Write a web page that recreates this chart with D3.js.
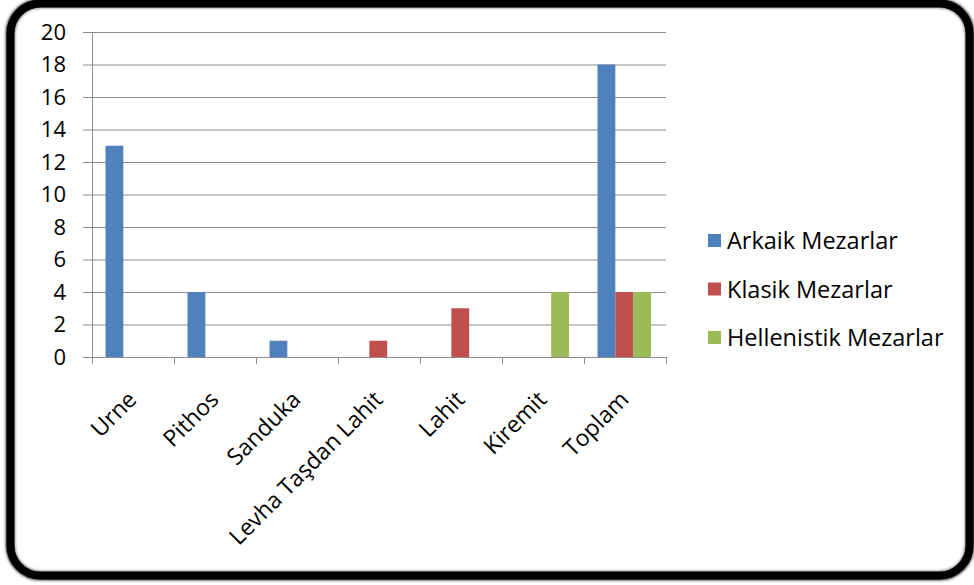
<!DOCTYPE html>
<html>
<head>
<meta charset="utf-8">
<script src="https://cdn.jsdelivr.net/npm/d3@7"></script>
<style>
  body { margin: 0; background: #fff; }
  svg { display: block; font-family: 'Open Sans', Lato, sans-serif; }
</style>
</head>
<body>
<div id="svg-container"></div>
<script>
const categories = ['Urne', 'Pithos', 'Sanduka', 'Levha Taşdan Lahit', 'Lahit', 'Kiremit', 'Toplam']
const seriesNames = ['Arkaik Mezarlar', 'Klasik Mezarlar', 'Hellenistik Mezarlar']
const arkaik = [13, 4, 1, 0, 0, 0, 18]
const klasik = [0, 0, 0, 1, 3, 0, 4]
const hellenistik = [0, 0, 0, 0, 0, 4, 4]
const yTicks = [0, 2, 4, 6, 8, 10, 12, 14, 16, 18, 20]
const colors = ['#4F81BD', '#C0504D', '#9BBB59']

const width = 974
const height = 585
const svg = d3.select('#svg-container').append('svg')
  .attr('width', width).attr('height', height)

// frame with soft shadow
const defs = svg.append('defs')
const f = defs.append('filter').attr('id', 'sh').attr('x', '-5%').attr('y', '-5%').attr('width', '110%').attr('height', '110%')
f.append('feGaussianBlur').attr('stdDeviation', 1.5)
svg.append('rect')
  .attr('x', 10.5).attr('y', 3.5).attr('width', 959).attr('height', 572)
  .attr('rx', 30).attr('fill', '#fff')
  .attr('stroke', '#000').attr('stroke-width', 9)
  .attr('filter', 'url(#sh)')
svg.append('rect')
  .attr('x', 10.5).attr('y', 3.5).attr('width', 959).attr('height', 572)
  .attr('rx', 30).attr('fill', 'none')
  .attr('stroke', '#000').attr('stroke-width', 8)

const plotLeft = 92, plotRight = 666, plotTop = 32, plotBottom = 357

const x0 = d3.scaleBand().domain(categories).range([plotLeft, plotRight])
const x1 = d3.scaleBand().domain(seriesNames).range([13.5, 13.5 + 53.5])
const y = d3.scaleLinear().domain([0, 20]).range([plotBottom, plotTop])

const g = svg.append('g')

// gridlines
g.selectAll('line.grid')
  .data(yTicks)
  .join('line')
  .attr('class', 'grid')
  .attr('x1', plotLeft - 9).attr('x2', plotRight)
  .attr('y1', d => y(d) + 0.5).attr('y2', d => y(d) + 0.5)
  .attr('stroke', '#8c8c8c').attr('stroke-width', 1)

// y axis line
g.append('line')
  .attr('x1', plotLeft + 0.5).attr('x2', plotLeft + 0.5)
  .attr('y1', y(20)).attr('y2', plotBottom + 0.5)
  .attr('stroke', '#8c8c8c')

// x ticks
const xTickPos = categories.map(c => x0(c)).concat([plotRight])
g.selectAll('line.xt')
  .data(xTickPos)
  .join('line')
  .attr('class', 'xt')
  .attr('x1', d => d + 0.5).attr('x2', d => d + 0.5)
  .attr('y1', plotBottom).attr('y2', plotBottom + 7)
  .attr('stroke', '#8c8c8c')

// y labels
g.selectAll('text.yl')
  .data(yTicks)
  .join('text')
  .attr('class', 'yl')
  .attr('x', 66)
  .attr('y', d => y(d))
  .attr('dy', '0.36em')
  .attr('text-anchor', 'end')
  .attr('font-size', 22)
  .attr('fill', '#000')
  .text(d => d)

// bars
const series = [arkaik, klasik, hellenistik]
const barData = []
series.forEach((vals, si) => {
  vals.forEach((v, ci) => {
    barData.push({ cat: categories[ci], s: seriesNames[si], v, color: colors[si] })
  })
})
g.selectAll('rect.bar')
  .data(barData.filter(d => d.v > 0))
  .join('rect')
  .attr('class', 'bar')
  .attr('x', d => x0(d.cat) + x1(d.s))
  .attr('width', x1.bandwidth())
  .attr('y', d => y(d.v))
  .attr('height', d => y(0) - y(d.v))
  .attr('fill', d => d.color)

// x labels
g.selectAll('text.xl')
  .data(categories)
  .join('text')
  .attr('class', 'xl')
  .attr('transform', d => `translate(${x0(d) + x0.bandwidth() / 2 + 5},${plotBottom + 44}) rotate(-45)`)
  .attr('text-anchor', 'end')
  .attr('font-size', 23)
  .attr('fill', '#000')
  .text(d => d)

// legend
const legend = svg.append('g').attr('transform', 'translate(708,241)')
const li = legend.selectAll('g')
  .data(seriesNames)
  .join('g')
  .attr('transform', (d, i) => `translate(0,${i * 48.5})`)
li.append('rect')
  .attr('x', 0).attr('y', -7).attr('width', 13).attr('height', 13)
  .attr('fill', (d, i) => colors[i])
li.append('text')
  .attr('x', 19).attr('y', 0).attr('dy', '0.35em')
  .attr('font-size', 23.5)
  .attr('fill', '#000')
  .text(d => d)
</script>
</body>
</html>
